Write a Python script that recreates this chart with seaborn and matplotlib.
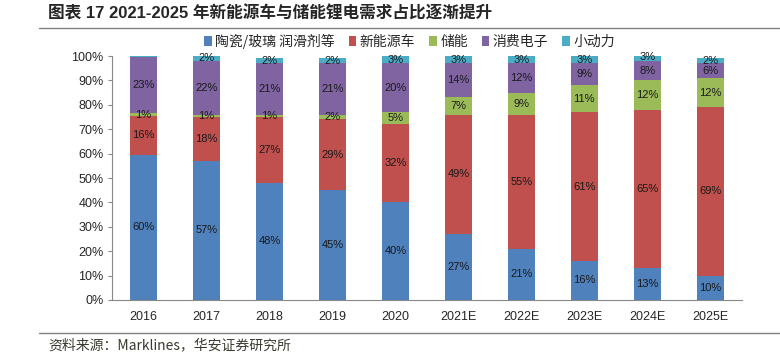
import numpy as np
import pandas as pd
import matplotlib
matplotlib.use("Agg")
import matplotlib.pyplot as plt
from matplotlib.patches import Patch
from matplotlib.lines import Line2D
import seaborn as sns

years = ["2016", "2017", "2018", "2019", "2020",
         "2021E", "2022E", "2023E", "2024E", "2025E"]
series_names = ["陶瓷/玻璃 润滑剂等", "新能源车", "储能", "消费电子", "小动力"]
ceramic = [59.5, 57, 48, 45, 40, 27, 21, 16, 13, 10]
nev = [16, 18, 27, 29, 32, 49, 55, 61, 65, 69]
storage = [1, 1, 1, 2, 5, 7, 9, 11, 12, 12]
consumer = [23, 22, 21, 21, 20, 14, 12, 9, 8, 6]
small_power = [0.5, 2, 2, 2, 3, 3, 3, 3, 3, 2]
colors = ["#4F81BD", "#C0504D", "#9BBB59", "#8064A2", "#4BACC6"]

sns.set_style("white")
plt.rcParams["font.family"] = ["Liberation Sans", "Noto Sans CJK SC", "DejaVu Sans"]
cjk = ["Noto Sans CJK SC", "DejaVu Sans"]

values = np.array([ceramic, nev, storage, consumer, small_power], dtype=float)
cum = values.cumsum(axis=0)

fig = plt.figure(figsize=(7.8, 3.6), dpi=100)
ax = fig.add_axes([0.1436, 0.1667, 0.8074, 0.6777])

# draw cumulative layers from the top down so each covers the one above
for k in range(len(series_names) - 1, -1, -1):
    df = pd.DataFrame({"year": years, "val": cum[k]})
    sns.barplot(data=df, x="year", y="val", color=colors[k], width=0.43,
                saturation=1, ax=ax, order=years, linewidth=0)

for k in range(len(series_names)):
    for i in range(len(years)):
        v = values[k, i]
        if v >= 1:
            ax.text(i, cum[k, i] - v / 2, f"{round(v)}%", ha="center", va="center",
                    fontsize=8, color="#1a1a1a")

ax.set_xlim(-0.5, 9.5)
ax.set_ylim(0, 100)
ax.set_yticks(range(0, 101, 10))
ax.set_yticklabels([f"{t}%" for t in range(0, 101, 10)], fontsize=9)
ax.tick_params(axis="x", labelsize=9, length=0, pad=8)
ax.tick_params(axis="y", left=True, length=3, width=0.8, color="#888888", pad=3)
ax.set_xlabel("")
ax.set_ylabel("")
for s in ["top", "right"]:
    ax.spines[s].set_visible(False)
for s in ["left", "bottom"]:
    ax.spines[s].set_color("#888888")
    ax.spines[s].set_linewidth(0.8)

handles = [Patch(facecolor=c, edgecolor="none") for c in colors]
leg = fig.legend(handles, series_names, loc="center", bbox_to_anchor=(0.525, 0.886),
                 ncol=5, frameon=False, handlelength=0.55,
                 handleheight=0.7, handletextpad=0.25, columnspacing=1.0,
                 prop={"family": cjk, "size": 10})

fig.text(0.062, 0.962, "图表 17 2021-2025 年新能源车与储能锂电需求占比逐渐提升",
         fontsize=12, fontweight="bold", va="center", ha="left",
         family=["Liberation Sans", "Noto Sans CJK SC"])
fig.text(0.062, 0.042, "资料来源：Marklines，华安证券研究所", fontsize=10,
         va="center", ha="left", color="#3a3a30", family=cjk)

fig.add_artist(Line2D([0.05, 1.0], [0.922, 0.922], color="#808080", lw=1.0,
                      transform=fig.transFigure))
fig.add_artist(Line2D([0.05, 1.0], [0.075, 0.075], color="#808080", lw=1.0,
                      transform=fig.transFigure))

fig.savefig("out.png", dpi=100)
